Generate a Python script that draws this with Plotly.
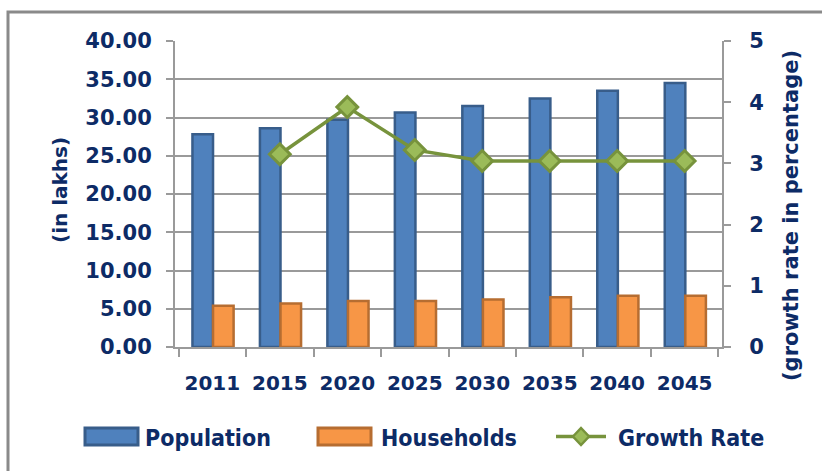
import plotly.graph_objects as go

years = ["2011", "2015", "2020", "2025", "2030", "2035", "2040", "2045"]
population = [27.8, 28.6, 29.7, 30.65, 31.5, 32.5, 33.5, 34.5]
households = [5.4, 5.7, 6.0, 6.0, 6.2, 6.5, 6.7, 6.7]
growth_rate = [None, 3.15, 3.92, 3.22, 3.04, 3.04, 3.04, 3.04]

W, H = 822, 471
L, R, T, B = 175, 100, 41, 124
PW, PH = W - L - R, H - T - B

NAVY = "#0D2B66"
GRID = "#9a9a9a"
FONT = "DejaVu Sans"


def px(x):
    return (x - L) / PW


def py(y):
    return (H - B - y) / PH


fig = go.Figure()
fig.add_trace(go.Bar(
    x=years, y=population, name="Population",
    offset=-0.295, width=0.305,
    marker=dict(color="#4F81BD", line=dict(color="#385D8A", width=2.5)),
))
fig.add_trace(go.Bar(
    x=years, y=households, name="Households",
    offset=0.01, width=0.305,
    marker=dict(color="#F79646", line=dict(color="#B66D31", width=2.5)),
))
fig.add_trace(go.Scatter(
    x=years, y=growth_rate, name="Growth Rate", yaxis="y2",
    mode="lines+markers",
    line=dict(color="#77933C", width=3.5),
    marker=dict(symbol="diamond", size=16, color="#9BBB59",
                line=dict(color="#77933C", width=3)),
))

tickfont = dict(family=FONT, size=20, color=NAVY, weight="bold")
ytickfont = dict(family=FONT, size=21, color=NAVY, weight="bold")

fig.update_layout(
    width=W, height=H,
    margin=dict(l=L, r=R, t=T, b=B),
    paper_bgcolor="white", plot_bgcolor="white",
    barmode="overlay", showlegend=False,
    xaxis=dict(
        type="category", showline=True, linecolor=GRID, linewidth=2,
        ticks="outside", tickson="boundaries", ticklen=8, tickcolor=GRID,
        tickwidth=2, tickfont=tickfont, showgrid=False,
        ticklabelstandoff=17,
    ),
    yaxis=dict(
        range=[0, 40], dtick=5, tickformat=".2f",
        showline=True, linecolor=GRID, linewidth=2,
        showgrid=True, gridcolor=GRID, gridwidth=2,
        ticks="outside", ticklen=7, tickcolor=GRID, tickwidth=2,
        tickfont=ytickfont, ticklabelstandoff=10, zeroline=False,
    ),
    yaxis2=dict(
        range=[0, 5], dtick=1, overlaying="y", side="right",
        showline=True, linecolor=GRID, linewidth=2, showgrid=False,
        ticks="outside", ticklen=7, tickcolor=GRID, tickwidth=2,
        tickfont=ytickfont, ticklabelstandoff=14, zeroline=False,
    ),
)

# Axis titles
fig.add_annotation(
    text="(in lakhs)", textangle=-90, xref="paper", yref="paper",
    x=px(60), y=py(190), showarrow=False,
    xanchor="center", yanchor="middle",
    font=dict(family=FONT, size=20, color=NAVY, weight="bold"),
)
fig.add_annotation(
    text="(growth rate in percentage)", textangle=-90, xref="paper", yref="paper",
    x=px(791), y=py(216), showarrow=False,
    xanchor="center", yanchor="middle",
    font=dict(family=FONT, size=21, color=NAVY, weight="bold"),
)

# Outer frame
fig.add_shape(
    type="rect", xref="paper", yref="paper",
    x0=px(8), x1=px(840), y0=py(490), y1=py(12),
    line=dict(color="#8a8a8a", width=3), layer="below",
)

# Legend drawn as swatches and labels along the bottom
legend_font = dict(family="DejaVu Sans Condensed", size=23, color=NAVY, weight="bold")
ly = 438
fig.add_shape(type="rect", xref="paper", yref="paper",
              x0=px(85), x1=px(138), y0=py(445), y1=py(428),
              fillcolor="#4F81BD", line=dict(color="#385D8A", width=3))
fig.add_annotation(text="Population", xref="paper", yref="paper",
                   x=px(143), y=py(ly), xanchor="left", yanchor="middle",
                   showarrow=False, font=legend_font)
fig.add_shape(type="rect", xref="paper", yref="paper",
              x0=px(318), x1=px(371), y0=py(445), y1=py(428),
              fillcolor="#F79646", line=dict(color="#B66D31", width=3))
fig.add_annotation(text="Households", xref="paper", yref="paper",
                   x=px(379), y=py(ly), xanchor="left", yanchor="middle",
                   showarrow=False, font=legend_font)
fig.add_shape(type="line", xref="paper", yref="paper",
              x0=px(556), x1=px(606), y0=py(436.5), y1=py(436.5),
              line=dict(color="#77933C", width=3.5))
fig.add_shape(type="path", xref="paper", yref="paper",
              path="M {a},{c} L {b},{d} L {e},{c} L {b},{f} Z".format(
                  a=px(573), b=px(581), e=px(589),
                  c=py(436.5), d=py(428), f=py(445)),
              fillcolor="#9BBB59", line=dict(color="#77933C", width=2.5))
fig.add_annotation(text="Growth Rate", xref="paper", yref="paper",
                   x=px(616), y=py(ly), xanchor="left", yanchor="middle",
                   showarrow=False, font=legend_font)

fig.write_html("out.html")
